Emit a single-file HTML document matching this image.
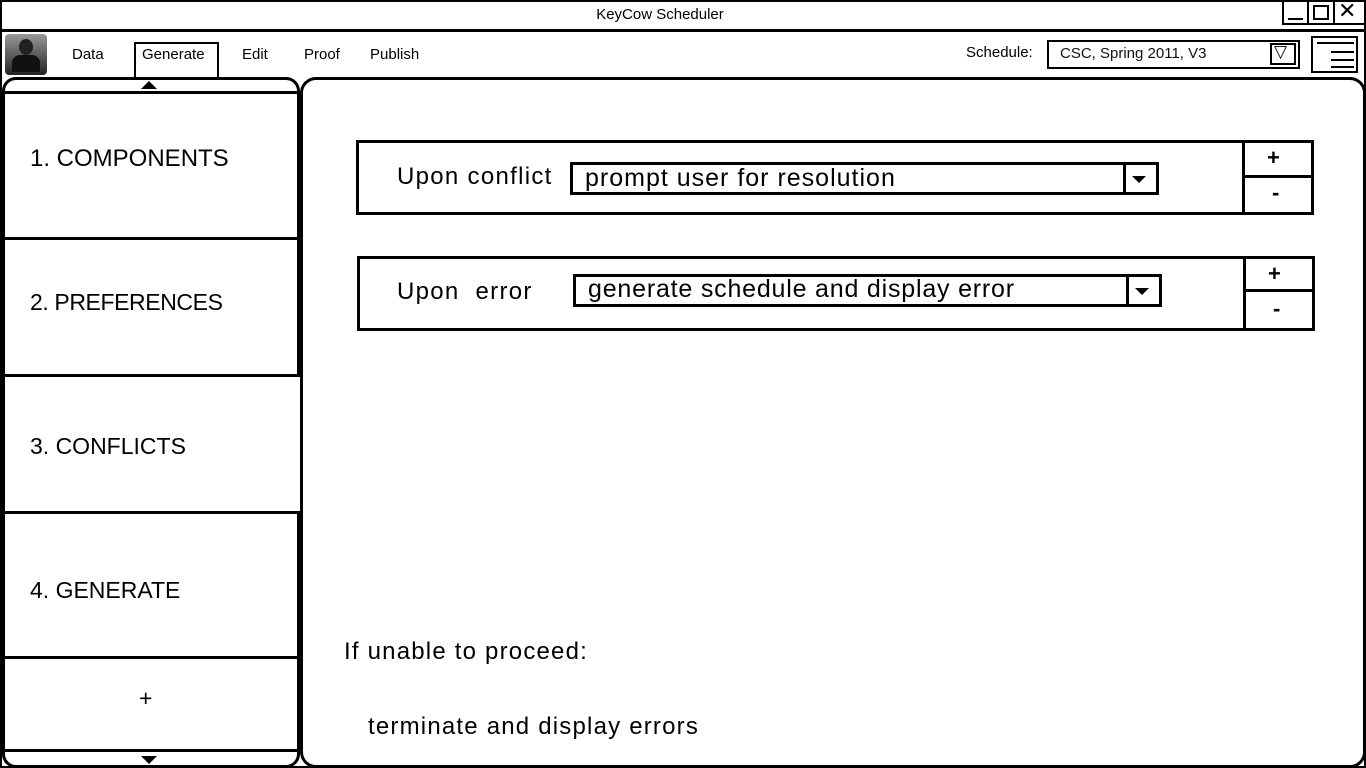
<!DOCTYPE html>
<html><head><meta charset="utf-8"><style>
*{margin:0;padding:0;box-sizing:border-box}
body{width:1366px;height:768px;background:#fff;position:relative;overflow:hidden;font-family:"Liberation Sans",sans-serif;color:#000}
.a{position:absolute}
.b{position:absolute;border:3px solid #000}
.t{position:absolute;white-space:nowrap}
.big{font-size:23px}
.mid{font-size:24px;letter-spacing:0.8px}
.tri{width:0;height:0;border-left:8px solid transparent;border-right:8px solid transparent;border-top:8px solid #000;position:absolute}
</style></head><body>
<div class="a" style="left:0;top:0;width:1366px;height:768px;border:2px solid #000"></div>
<div class="a" style="left:0;top:29px;width:1366px;height:3px;background:#000"></div>
<div class="t" style="left:0;width:1320px;top:6px;text-align:center;font-size:15px">KeyCow Scheduler</div>
<div class="a" style="left:1282px;top:0;width:84px;height:25px;border:2px solid #000"></div>
<div class="a" style="left:1307px;top:0;width:2px;height:25px;background:#000"></div>
<div class="a" style="left:1333px;top:0;width:2px;height:25px;background:#000"></div>
<div class="a" style="left:1288px;top:18px;width:15px;height:2px;background:#000"></div>
<div class="a" style="left:1313px;top:5px;width:16px;height:15px;border:2px solid #000"></div>
<div class="t" style="left:1338px;top:-2px;font-size:22px">✕</div>
<div class="a" style="left:5px;top:34px;width:42px;height:41px;border-radius:4px;background:linear-gradient(#999,#222)"></div>
<div class="a" style="left:19px;top:39px;width:14px;height:16px;border-radius:50%;background:#222"></div>
<div class="a" style="left:12px;top:55px;width:28px;height:17px;border-radius:8px 8px 0 0;background:#111"></div>
<div class="t" style="left:72px;top:46px;font-size:15px">Data</div>
<div class="a" style="left:134px;top:42px;width:85px;height:36px;border:2px solid #000;border-bottom:none"></div>
<div class="t" style="left:142px;top:46px;font-size:15px">Generate</div>
<div class="t" style="left:242px;top:46px;font-size:15px">Edit</div>
<div class="t" style="left:304px;top:46px;font-size:15px">Proof</div>
<div class="t" style="left:370px;top:46px;font-size:15px">Publish</div>
<div class="t" style="left:966px;top:44px;font-size:15px">Schedule:</div>
<div class="a" style="left:1047px;top:40px;width:253px;height:29px;border:2px solid #000"></div>
<div class="t" style="left:1060px;top:45px;font-size:15px;color:#111">CSC, Spring 2011, V3</div>
<div class="a" style="left:1270px;top:43px;width:26px;height:22px;border:2px solid #000"></div>
<div class="t" style="left:1274px;top:42px;font-size:17px">▽</div>
<div class="a" style="left:1311px;top:36px;width:47px;height:37px;border:2px solid #000"></div>
<div class="a" style="left:1317px;top:42px;width:37px;height:2px;background:#000"></div>
<div class="a" style="left:1331px;top:51px;width:23px;height:2px;background:#000"></div>
<div class="a" style="left:1331px;top:59px;width:23px;height:2px;background:#000"></div>
<div class="a" style="left:1331px;top:66px;width:23px;height:2px;background:#000"></div>
<div class="a" style="left:2px;top:77px;width:298px;height:691px;border:3px solid #000;border-radius:14px"></div>
<div class="a" style="left:141px;top:81px;width:0;height:0;border-left:8px solid transparent;border-right:8px solid transparent;border-bottom:8px solid #000"></div>
<div class="a" style="left:2px;top:91px;width:298px;height:3px;background:#000"></div>
<div class="a" style="left:2px;top:237px;width:298px;height:3px;background:#000"></div>
<div class="a" style="left:2px;top:374px;width:300px;height:3px;background:#000"></div>
<div class="a" style="left:296px;top:377px;width:6px;height:134px;background:#fff"></div>
<div class="a" style="left:2px;top:511px;width:300px;height:3px;background:#000"></div>
<div class="a" style="left:2px;top:656px;width:298px;height:3px;background:#000"></div>
<div class="a" style="left:2px;top:749px;width:298px;height:3px;background:#000"></div>
<div class="tri" style="left:141px;top:756px"></div>
<div class="t" style="left:30px;top:145px;font-size:24px">1. COMPONENTS</div>
<div class="t big" style="left:30px;top:289px;letter-spacing:-0.4px">2. PREFERENCES</div>
<div class="t big" style="left:30px;top:433px">3. CONFLICTS</div>
<div class="t big" style="left:30px;top:577px">4. GENERATE</div>
<div class="t big" style="left:139px;top:685px">+</div>
<div class="a" style="left:300px;top:77px;width:1066px;height:691px;border:3px solid #000;border-radius:16px"></div>
<div class="b" style="left:356px;top:140px;width:958px;height:75px"></div>
<div class="a" style="left:1242px;top:140px;width:3px;height:75px;background:#000"></div>
<div class="a" style="left:1242px;top:175px;width:72px;height:3px;background:#000"></div>
<div class="t" style="left:1267px;top:145px;font-size:22px;font-weight:bold">+</div>
<div class="t" style="left:1272px;top:180px;font-size:22px;font-weight:bold">-</div>
<div class="t mid" style="left:397px;top:163px;letter-spacing:1.3px">Upon conflict</div>
<div class="b" style="left:570px;top:162px;width:589px;height:33px"></div>
<div class="a" style="left:1123px;top:162px;width:3px;height:33px;background:#000"></div>
<div class="tri" style="left:1132px;top:176px;border-left-width:7px;border-right-width:7px;border-top-width:7px"></div>
<div class="t" style="left:585px;top:164px;font-size:25px;letter-spacing:1px">prompt user for resolution</div>
<div class="b" style="left:357px;top:256px;width:958px;height:75px"></div>
<div class="a" style="left:1243px;top:256px;width:3px;height:75px;background:#000"></div>
<div class="a" style="left:1243px;top:289px;width:72px;height:3px;background:#000"></div>
<div class="t" style="left:1268px;top:261px;font-size:22px;font-weight:bold">+</div>
<div class="t" style="left:1273px;top:296px;font-size:22px;font-weight:bold">-</div>
<div class="t mid" style="left:397px;top:278px;letter-spacing:1.3px">Upon&nbsp; error</div>
<div class="b" style="left:573px;top:274px;width:589px;height:33px"></div>
<div class="a" style="left:1126px;top:274px;width:3px;height:33px;background:#000"></div>
<div class="tri" style="left:1135px;top:288px;border-left-width:7px;border-right-width:7px;border-top-width:7px"></div>
<div class="t" style="left:588px;top:275px;font-size:25px;letter-spacing:0.8px">generate schedule and display error</div>
<div class="t mid" style="left:344px;top:638px;letter-spacing:1.2px">If unable to proceed:</div>
<div class="t mid" style="left:368px;top:713px;letter-spacing:1.2px">terminate and display errors</div>
</body></html>
